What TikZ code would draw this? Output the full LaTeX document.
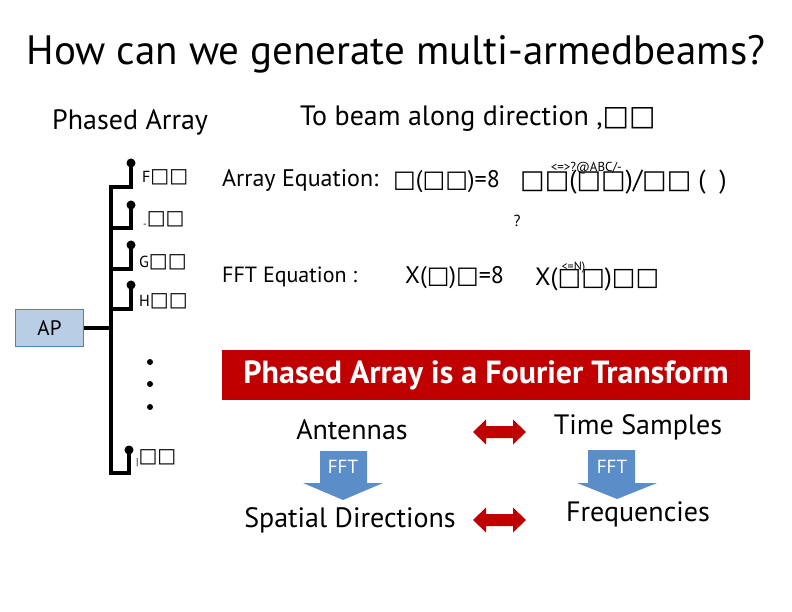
\documentclass[tikz,border=0pt]{standalone}
\usepackage{fontspec}
\setmainfont{PT Sans}
\newfontfamily\symf{DejaVu Sans}
\definecolor{banred}{HTML}{C00000}
\definecolor{arrred}{HTML}{C00000}
\definecolor{apfill}{HTML}{B9CDE5}
\definecolor{apdraw}{HTML}{4F81BD}
\definecolor{fftblue}{HTML}{5B8DC8}
\tikzset{
  wire/.style={line width=3.5pt},
  antdot/.style={circle, fill=black, inner sep=0pt, minimum size=9pt},
  ellip/.style={circle, fill=black, inner sep=0pt, minimum size=6pt},
  antlbl/.style={anchor=west, inner sep=0pt, font=\fontsize{20}{20}\selectfont},
  txt/.style={inner sep=0pt},
  rdarrow/.style={fill=arrred},
  fftarrow/.style={fill=fftblue},
}
\newcommand{\bx}{{\symf □}}
\newcommand{\smallletter}[1]{{\fontsize{16}{16}\selectfont #1}}
\begin{document}
\begin{tikzpicture}[x=1pt,y=-1pt]
\useasboundingbox (0,0) rectangle (792,612);
% title
\node[txt] (title) at (396,54) {\fontsize{41}{41}\selectfont How can we generate multi-armedbeams?};
\node[txt, anchor=west] (pa) at (52,122) {\fontsize{28}{28}\selectfont Phased Array};
\node[txt, anchor=west] (tobeam) at (300,119) {\fontsize{28}{28}\selectfont To beam along direction ,\bx\bx};
% array
\coordinate (top) at (111,187);
\draw[wire] (111,185.25) -- (111,474.75);
\node[antdot] (a1) at (131,163) {};
\node[antdot] (a2) at (131,205) {};
\node[antdot] (a3) at (131,245) {};
\node[antdot] (a4) at (131,285) {};
\node[antdot] (a5) at (129,450) {};
\draw[wire] (111,187) -| (a1.center);
\draw[wire] (111,228) -| (a2.center);
\draw[wire] (111,269) -| (a3.center);
\draw[wire] (111,309) -| (a4.center);
\draw[wire] (111,473) -| (a5.center);
\node[antlbl] (l1) at (142,177) {\smallletter{F}\bx\bx};
\node[antlbl] (l2) at (143,220) {\raisebox{-3pt}{\fontsize{10}{10}\selectfont -}\bx\bx};
\node[antlbl] (l3) at (139,262) {\smallletter{G}\bx\bx};
\node[antlbl] (l4) at (139,301) {\smallletter{H}\bx\bx};
\node[antlbl] (l5) at (136,458) {\raisebox{-3pt}{\fontsize{10}{10}\selectfont |}\bx\bx};
% AP
\node[draw=apdraw, fill=apfill, line width=1.5pt, minimum width=68pt, minimum height=37pt, inner sep=0pt, font=\fontsize{21}{21}\selectfont] (ap) at (49.5,328) {AP};
\draw[wire] (ap.east) -- (ap.east -| top);
% ellipsis dots
\node[ellip] (d1) at (150,362) {};
\node[ellip] (d2) at (150,384) {};
\node[ellip] (d3) at (150,407) {};
% equations
\node[txt, anchor=west] (arreq) at (222,180) {\fontsize{24}{24}\selectfont Array Equation:};
\node[txt, anchor=west] (arrlhs) at (393,182) {\fontsize{24}{24}\selectfont \bx(\bx\bx)=8};
\node[txt, anchor=base west] (arrrhs) at (520,189) {\fontsize{26}{26}\selectfont \bx\rlap{\raisebox{17pt}{\fontsize{13}{13}\selectfont\hspace{6pt}<=>?@ABC/-}}\bx(\bx\bx)/\bx\bx\ (\ \ )};
\node[txt] (q) at (517,221) {\fontsize{16}{16}\selectfont ?};
\node[txt, anchor=west] (ffteq) at (222,277) {\fontsize{22}{22}\selectfont FFT Equation :};
\node[txt, anchor=west] (fftlhs) at (405,278) {\fontsize{24}{24}\selectfont X(\bx)\bx=8};
\node[txt, anchor=base west] (fftrhs) at (535,286) {\fontsize{25}{25}\selectfont X(\rlap{\raisebox{16pt}{\fontsize{12}{12}\selectfont\hspace{4pt}<=N)}}\bx\bx)\bx\bx};
% banner
\node[fill=banred, minimum width=528pt, minimum height=50pt, inner sep=0pt, text=white, font=\fontsize{32}{32}\selectfont\bfseries] (banner) at (486,375) {Phased Array is a Fourier Transform};
% mapping
\node[txt] (ant) at (352,430) {\fontsize{28}{28}\selectfont Antennas};
\node[txt] (ts) at (638,427) {\fontsize{28}{28}\selectfont Time Samples};
\node[txt] (sd) at (350,520) {\fontsize{28}{28}\selectfont Spatial Directions};
\node[txt] (fr) at (638,514) {\fontsize{28}{28}\selectfont Frequencies};
% red double arrows
\foreach \cy/\nm in {432/dar1, 520/dar2}{
  \coordinate (\nm) at (499.5,\cy);
  \fill[rdarrow] ([xshift=-26.5pt]\nm) -- ++(13,-12.5) -- ++(0,6.5) -- ++(27,0) -- ++(0,-6.5) -- ([xshift=26.5pt]\nm) -- ++(-13,12.5) -- ++(0,-6.5) -- ++(-27,0) -- ++(0,6.5) -- cycle;
}
% FFT arrows
\fill[fftarrow] (320,451) -- (367,451) -- (367,483) -- (383,483) -- (343,500) -- (303,483) -- (320,483) -- cycle;
\fill[fftarrow] (588,450) -- (635,450) -- (635,483) -- (657,483) -- (617,499) -- (577,483) -- (588,483) -- cycle;
\node[txt, text=white] (fft1) at (343,467) {\fontsize{19}{19}\selectfont FFT};
\node[txt, text=white] (fft2) at (612,467) {\fontsize{19}{19}\selectfont FFT};
\end{tikzpicture}
\end{document}
